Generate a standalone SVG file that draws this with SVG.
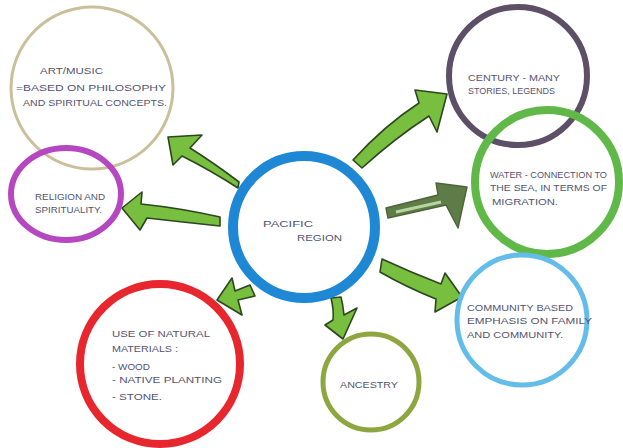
<svg xmlns="http://www.w3.org/2000/svg" width="623" height="448" viewBox="0 0 623 448">
<style>
.c{fill:none}
.t{font-family:"Liberation Sans",Arial,sans-serif;font-size:9px;fill:#55536e}
.a{fill:#79bf3f;stroke:#2c4620;stroke-width:1.6;stroke-linejoin:round}
.d{fill:#5e7c48;stroke:#4a6438;stroke-width:1.4;stroke-linejoin:round}
</style>
<rect width="623" height="448" fill="#ffffff"/>
<g id="connectors">
<path class="a" d="M238,188 Q210,170 182,156 L173,165 L168,137 L202,135 L190,148 Q214,163 239,182 Z"/>
<path class="a" d="M220,217 Q180,208 141,204 L142,192 L122,208 L140,230 L147,218 Q182,222 220,226 Z"/>
<path class="a" d="M353,160 Q385,125 419,103 L415,90 L447,94 L437,132 L429,116 Q395,138 362,168 Z"/>
<path class="d" d="M386,208 L438,195 L436,183 L467,187 L458,228 L446,205 L388,218 Z"/>
<path d="M396,212 L441,202" stroke="#b8d4a0" stroke-width="3" fill="none"/>
<path class="a" d="M382,259 Q410,272 441,284 L445,273 L462,297 L435,312 L436,299 Q406,287 380,272 Z"/>
<path class="a" d="M331,298 Q334,310 333,320 L325,325 L343,339 L357,308 L344,315 Q343,305 341,297 Z"/>
<path class="a" d="M235,291 L250,285 L255,296 L238,300 L242,315 L217,300 L232,278 Z"/>
</g>
<g id="art">
<circle class="c" cx="92" cy="88" r="81" stroke="#c9bf98" stroke-width="3"/>
<text class="t" x="40" y="74" textLength="63" lengthAdjust="spacingAndGlyphs">ART/MUSIC</text>
<text class="t" x="16" y="91" textLength="150" lengthAdjust="spacingAndGlyphs">=BASED ON PHILOSOPHY</text>
<text class="t" x="23" y="106" textLength="144" lengthAdjust="spacingAndGlyphs">AND SPIRITUAL CONCEPTS.</text>
</g>
<g id="religion">
<ellipse class="c" cx="66" cy="194" rx="55" ry="46" stroke="#b548c0" stroke-width="6"/>
<text class="t" x="35" y="200" textLength="70" lengthAdjust="spacingAndGlyphs">RELIGION AND</text>
<text class="t" x="35" y="213" textLength="67" lengthAdjust="spacingAndGlyphs">SPIRITUALITY.</text>
</g>
<g id="century">
<circle class="c" cx="518" cy="76" r="69" stroke="#5c4f66" stroke-width="6"/>
<text class="t" x="468" y="81" textLength="92" lengthAdjust="spacingAndGlyphs">CENTURY - MANY</text>
<text class="t" x="468" y="94" textLength="87" lengthAdjust="spacingAndGlyphs">STORIES, LEGENDS</text>
</g>
<g id="water">
<circle class="c" cx="547" cy="182" r="72" stroke="#5fb847" stroke-width="8"/>
<text class="t" x="490" y="178" textLength="117" lengthAdjust="spacingAndGlyphs">WATER - CONNECTION TO</text>
<text class="t" x="490" y="191" textLength="117" lengthAdjust="spacingAndGlyphs">THE SEA, IN TERMS OF</text>
<text class="t" x="492" y="205" textLength="66" lengthAdjust="spacingAndGlyphs">MIGRATION.</text>
</g>
<g id="community">
<circle class="c" cx="522" cy="320" r="65" stroke="#63bde8" stroke-width="5"/>
<text class="t" x="467" y="311" textLength="106" lengthAdjust="spacingAndGlyphs">COMMUNITY BASED</text>
<text class="t" x="467" y="324" textLength="125" lengthAdjust="spacingAndGlyphs">EMPHASIS ON FAMILY</text>
<text class="t" x="467" y="338" textLength="96" lengthAdjust="spacingAndGlyphs">AND COMMUNITY.</text>
</g>
<g id="ancestry">
<circle class="c" cx="371" cy="382" r="48" stroke="#8da640" stroke-width="5"/>
<text class="t" x="340" y="388" textLength="58" lengthAdjust="spacingAndGlyphs">ANCESTRY</text>
</g>
<g id="natural">
<circle class="c" cx="160" cy="364" r="80" stroke="#e8262e" stroke-width="8"/>
<text class="t" x="112" y="337" textLength="98" lengthAdjust="spacingAndGlyphs">USE OF NATURAL</text>
<text class="t" x="112" y="352" textLength="66" lengthAdjust="spacingAndGlyphs">MATERIALS :</text>
<text class="t" x="112" y="370" textLength="38" lengthAdjust="spacingAndGlyphs">- WOOD</text>
<text class="t" x="112" y="383" textLength="110" lengthAdjust="spacingAndGlyphs">- NATIVE PLANTING</text>
<text class="t" x="112" y="400" textLength="50" lengthAdjust="spacingAndGlyphs">- STONE.</text>
</g>
<g id="pacific">
<circle class="c" cx="304" cy="227" r="71" stroke="#1e88d4" stroke-width="10"/>
<text class="t" x="263" y="227" textLength="50" lengthAdjust="spacingAndGlyphs">PACIFIC</text>
<text class="t" x="297" y="241" textLength="45" lengthAdjust="spacingAndGlyphs">REGION</text>
</g>
</svg>
